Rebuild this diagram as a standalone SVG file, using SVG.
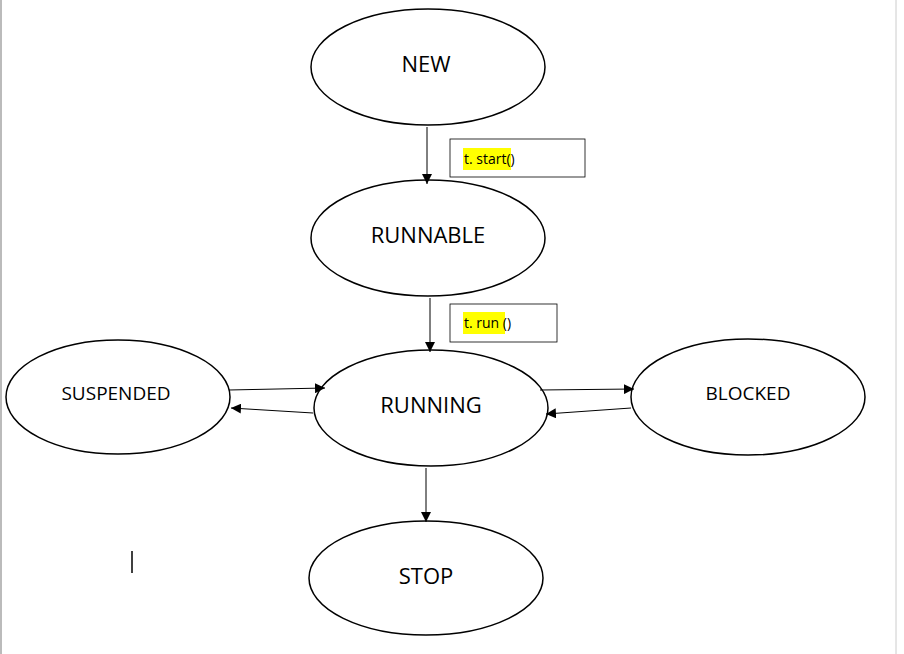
<svg xmlns="http://www.w3.org/2000/svg" width="904" height="654" viewBox="0 0 904 654">
<style>
.n{fill:#fff;stroke:#000;stroke-width:1.5}
.t{font-family:"Open Sans","Liberation Sans",sans-serif;font-size:22px;text-anchor:middle;fill:#000}
.l{font-family:"Open Sans","Liberation Sans",sans-serif;font-size:14px;fill:#000}
.c line{stroke:#000;stroke-width:1;marker-end:url(#a)}
</style>
<defs><marker id="a" viewBox="0 0 10 10" refX="10" refY="5" markerWidth="10" markerHeight="10" markerUnits="userSpaceOnUse" orient="auto"><path d="M0,0L10,5L0,10z" fill="#000"/></marker></defs>
<rect width="904" height="654" fill="#fff"/>
<line x1="1" y1="0" x2="1" y2="654" stroke="#bbb" stroke-width="2"/>
<line x1="896" y1="0" x2="896" y2="654" stroke="#ccc" stroke-width="1"/>
<g id="new"><ellipse class="n" cx="428" cy="67" rx="117" ry="58"/><text class="t" x="426" y="72">NEW</text></g>
<g id="runnable"><ellipse class="n" cx="428" cy="238" rx="117" ry="58"/><text class="t" x="428" y="243">RUNNABLE</text></g>
<g id="running"><ellipse class="n" cx="431" cy="408" rx="117" ry="58"/><text class="t" x="431" y="413">RUNNING</text></g>
<g id="suspended"><ellipse class="n" cx="118" cy="397" rx="112" ry="57"/><text class="t" x="116" y="400" style="font-size:19px">SUSPENDED</text></g>
<g id="blocked"><ellipse class="n" cx="748" cy="397" rx="117" ry="58"/><text class="t" x="748" y="400" style="font-size:19px">BLOCKED</text></g>
<g id="stop"><ellipse class="n" cx="426" cy="578" rx="117" ry="57"/><text class="t" x="426" y="584">STOP</text></g>
<g id="lbl1"><rect x="450" y="139" width="135" height="38" fill="#fff" stroke="#000" stroke-width="0.8"/><rect x="463" y="148" width="48" height="22" fill="#ff0"/><text class="l" x="464" y="164">t. start()</text></g>
<g id="lbl2"><rect x="450" y="304" width="107" height="38" fill="#fff" stroke="#000" stroke-width="0.8"/><rect x="463" y="312" width="42" height="22" fill="#ff0"/><text class="l" x="464" y="328">t. run ()</text></g>
<g class="c">
<line x1="427" y1="127" x2="427" y2="184"/>
<line x1="430" y1="298" x2="430" y2="352"/>
<line x1="426" y1="468" x2="426" y2="522"/>
<line x1="229" y1="390" x2="325" y2="388"/>
<line x1="313" y1="413" x2="231" y2="408"/>
<line x1="540" y1="390" x2="634" y2="389"/>
<line x1="631" y1="408" x2="546" y2="414"/>
</g>
<line x1="132" y1="551" x2="132" y2="573" stroke="#000" stroke-width="1.5"/>
</svg>
